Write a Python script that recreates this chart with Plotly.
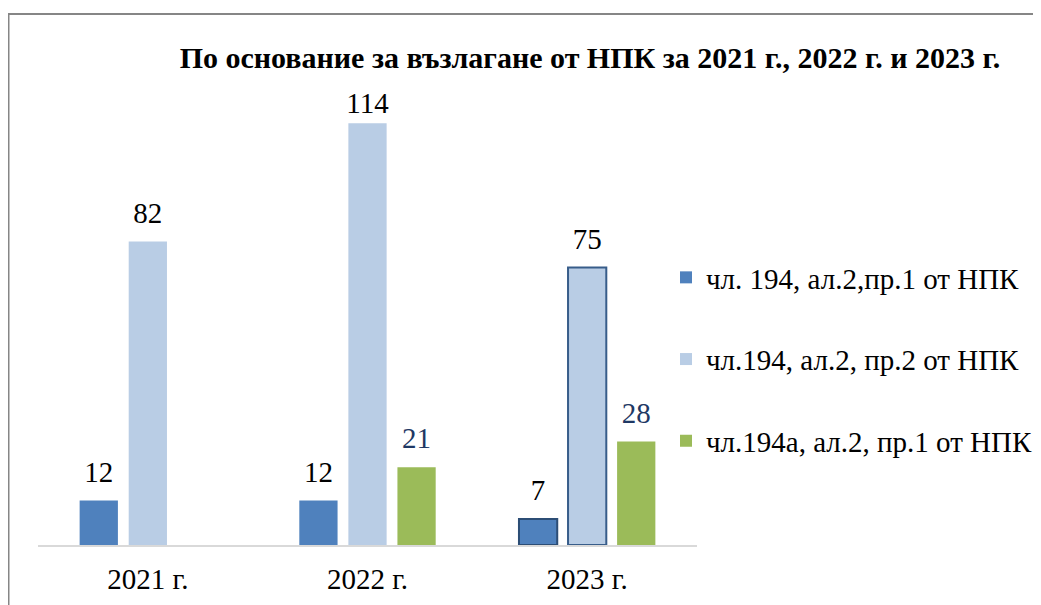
import plotly.graph_objects as go

categories = ["2021 г.", "2022 г.", "2023 г."]
series_names = ["чл. 194, ал.2,пр.1 от НПК", "чл.194, ал.2, пр.2 от НПК", "чл.194а, ал.2, пр.1 от НПК"]
s1 = [12, 12, 7]
s2 = [82, 114, 75]
s3 = [None, 21, 28]

title_text = "По основание за възлагане от НПК за 2021 г., 2022 г. и 2023 г."

FONT = "Liberation Serif, Times New Roman, serif"
W, H = 1041, 605
OFF = 8  # page body margin offset
L, R, T, B = 30, 352, 93, 68
BARGAP = 0.33

fig = go.Figure()

bar_styles = [
    dict(color="#4F81BD", line=dict(color=["#4F81BD", "#4F81BD", "#2C4D75"], width=[0, 0, 2])),
    dict(color="#B9CDE5", line=dict(color=["#B9CDE5", "#B9CDE5", "#385D8A"], width=[0, 0, 2])),
    dict(color="#9BBB59", line=dict(width=0)),
]
label_colors = ["#000000", "#000000", "#1F3864"]
# invisible marker sizes used only to lift the value labels above the bars
label_lift = [[17, 17, 17], [17, 3, 17], [17, 17, 17]]

for i, (vals, name) in enumerate(zip([s1, s2, s3], series_names)):
    fig.add_trace(go.Bar(
        x=categories, y=vals, name=name, marker=bar_styles[i],
        legendgroup=f"g{i}", hoverinfo="x+y",
    ))

for i, vals in enumerate([s1, s2, s3]):
    fig.add_trace(go.Scatter(
        x=categories, y=vals, mode="markers+text",
        text=["" if v is None else str(v) for v in vals],
        textposition="top center",
        textfont=dict(family=FONT, size=29, color=label_colors[i]),
        marker=dict(size=label_lift[i], opacity=0, color="white"),
        showlegend=False, hoverinfo="skip", cliponaxis=False,
    ))

plot_h = H - T - B
plot_w = W - L - R

def px_x(p):
    return (p - OFF - L) / plot_w

def px_y(p):
    return (H - B - (p - OFF)) / plot_h

fig.update_layout(
    width=W, height=H,
    margin=dict(l=L, r=R, t=T, b=B, pad=0),
    paper_bgcolor="white", plot_bgcolor="white",
    barmode="group", bargap=BARGAP, bargroupgap=0.22,
    scattermode="group", scattergap=BARGAP,
    font=dict(family=FONT, size=29, color="#000000"),
    title=dict(text="<b>" + title_text + "</b>", x=(590 - OFF) / W, xanchor="center",
               y=1 - (57 - OFF) / H, yanchor="middle", yref="container", xref="container",
               font=dict(family=FONT, size=30, color="#000000")),
    showlegend=True,
    legend=dict(x=px_x(666), xanchor="left", y=px_y(252), yanchor="top",
                traceorder="grouped", tracegroupgap=41,
                font=dict(family=FONT, size=29, color="#000000"),
                bgcolor="rgba(0,0,0,0)", itemclick=False),
    xaxis=dict(showline=True, linecolor="#D9D9D9", linewidth=2, showgrid=False,
               ticks="", ticklabelstandoff=7,
               tickfont=dict(family=FONT, size=29, color="#000000"),
               fixedrange=True),
    yaxis=dict(range=[0, 120], visible=False, showgrid=False, zeroline=False,
               fixedrange=True),
    shapes=[dict(type="rect", xref="paper", yref="paper",
                 x0=px_x(8.5), x1=px_x(1070), y0=px_y(650), y1=px_y(14),
                 line=dict(color="#868686", width=2), fillcolor="rgba(0,0,0,0)",
                 layer="below")],
)

fig.write_html("out.html")
